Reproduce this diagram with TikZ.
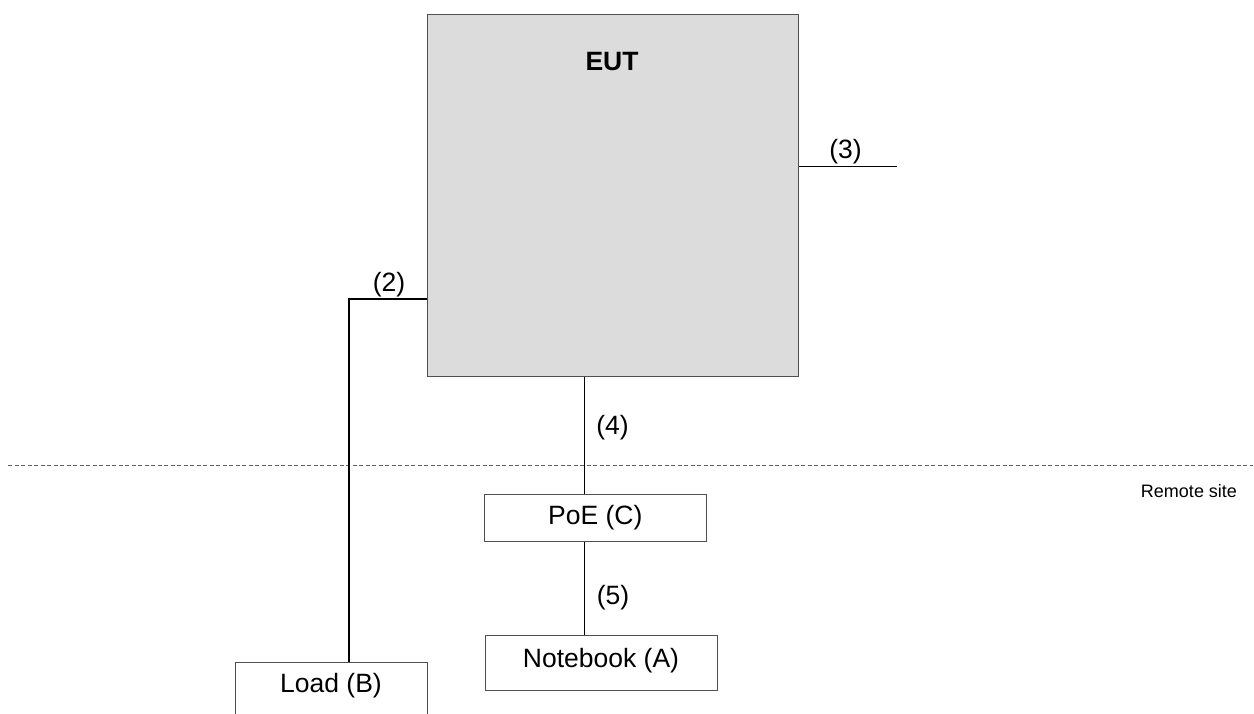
\documentclass[tikz,border=0pt]{standalone}
\usepackage{fontspec}
\setmainfont{Liberation Sans}
\definecolor{eutfill}{HTML}{DCDCDC}
\definecolor{boxline}{HTML}{505050}
\definecolor{dashline}{HTML}{606060}
\begin{document}
\begin{tikzpicture}[x=1pt,y=-1pt,
  lbl/.style={font=\fontsize{26.5}{31}\selectfont, inner sep=0pt},
  eutbox/.style={draw=boxline, fill=eutfill, line width=1.3pt, anchor=north west, inner sep=0pt},
  devbox/.style={draw=boxline, fill=white, line width=1pt, anchor=north west, inner sep=0pt},
  wire/.style={draw=black, line width=1pt},
  thickwire/.style={draw=black, line width=2pt},
  sitesep/.style={draw=dashline, line width=1pt, dash pattern=on 4pt off 2.5pt}]
\useasboundingbox (0,0) rectangle (1254,713);
% EUT
\node[eutbox, minimum width=371pt, minimum height=362pt] (eut) at (426.5,14) {};
\node[font=\bfseries\fontsize{26.5}{31}\selectfont, inner sep=0pt] (euttxt) at (612,62) {EUT};
% devices
\node[devbox, minimum width=222pt, minimum height=46.5pt] (poe) at (484.3,494.3) {};
\node[lbl] (poetxt) at (595.3,518) {PoE (C)};
\node[devbox, minimum width=232pt, minimum height=55pt] (nb) at (485,635.3) {};
\node[lbl] (nbtxt) at (601,661) {Notebook (A)};
\node[devbox, minimum width=192pt, minimum height=90pt] (load) at (235,662) {};
\node[lbl] (loadtxt) at (331,686) {Load (B)};
% site separator
\coordinate (sl) at (8,465);
\coordinate (sr) at (1253,465);
\draw[sitesep] (sl) -- (sr);
\node[font=\fontsize{18}{22}\selectfont, inner sep=0pt] (remote) at (1189,491) {Remote site};
% connector (2)
\coordinate (c2) at (348.7,299.3);
\draw[thickwire] (eut.west |- c2) -- (c2) -- (c2 |- load.north);
\node[lbl] (l2) at (389,285) {(2)};
% connector (3)
\coordinate (c3) at (896.7,166.7);
\draw[wire] (eut.east |- c3) -- (c3);
\node[lbl] (l3) at (845.5,152) {(3)};
% connector (4)
\coordinate (c4) at (584.7,0);
\draw[wire] (eut.south -| c4) -- (poe.north -| c4);
\node[lbl] (l4) at (612.5,428) {(4)};
% connector (5)
\draw[wire] (poe.south -| c4) -- (nb.north -| c4);
\node[lbl] (l5) at (613,598) {(5)};
\end{tikzpicture}
\end{document}
